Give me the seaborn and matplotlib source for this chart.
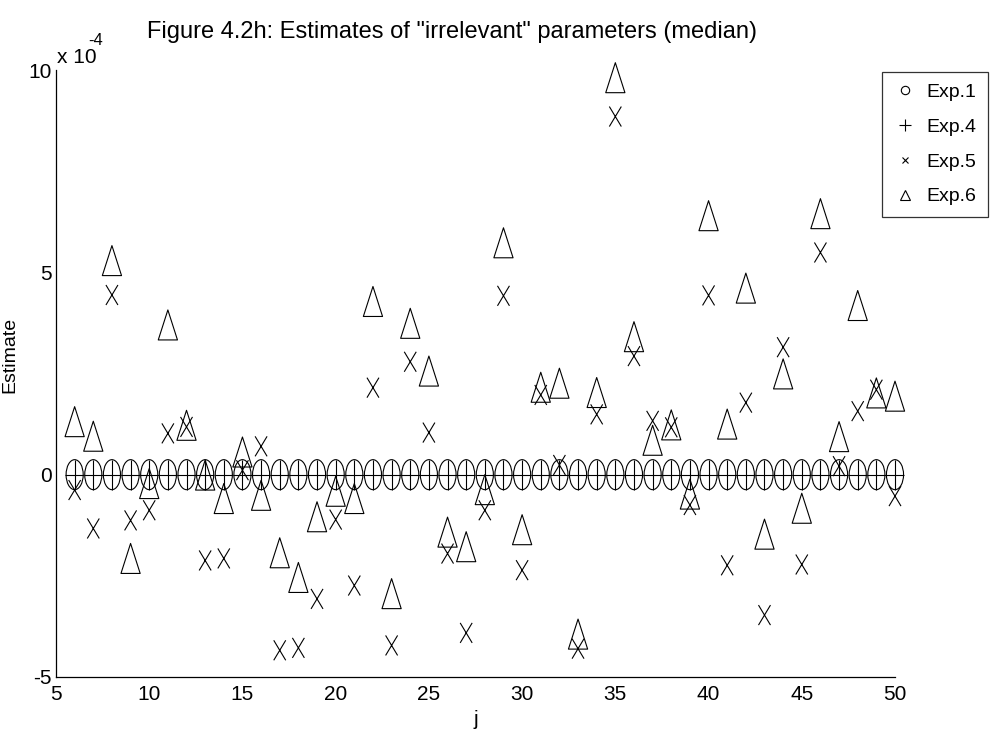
import numpy as np
import matplotlib
matplotlib.use('Agg')
import matplotlib.pyplot as plt
from matplotlib.path import Path
from matplotlib.lines import Line2D
import seaborn as sns

# valores em unidades de 1e-4
j = list(range(6, 51))
exp1 = [0.0] * len(j)
exp4 = [0.0] * len(j)
exp5 = [-0.38, -1.33, 4.44, -1.13, -0.88, 1.02, 1.18, -2.12, -2.07, 0.11, 0.70, -4.34, -4.28, -3.07,
        -1.11, -2.74, 2.15, -4.22, 2.79, 1.04, -1.95, -3.91, -0.88, 4.42, -2.36, 1.97, 0.24, -4.30,
        1.49, 8.85, 2.93, 1.33, 1.17, -0.75, 4.43, -2.24, 1.78, -3.47, 3.15, -2.22, 5.49, 0.21, 1.57, 2.10, -0.53]
exp6 = [1.31, 0.95, 5.29, -2.07, -0.22, 3.70, 1.22, -0.01, -0.59, 0.56, -0.51, -1.93, -2.54, -1.04,
        -0.41, -0.59, 4.28, -2.94, 3.74, 2.56, -1.42, -1.78, -0.37, 5.73, -1.36, 2.16, 2.26, -3.94,
        2.03, 9.81, 3.41, 0.85, 1.23, -0.48, 6.40, 1.25, 4.61, -1.47, 2.49, -0.83, 6.45, 0.94, 4.18, 2.02, 1.94]
labels = ['Exp.1', 'Exp.4', 'Exp.5', 'Exp.6']
xticks = [5, 10, 15, 20, 25, 30, 35, 40, 45, 50]
yticks = [-5, 0, 5, 10]

sns.set_style('white')
plt.rcParams['font.family'] = ['Liberation Sans', 'DejaVu Sans']
plt.rcParams['axes.unicode_minus'] = False
plt.rcParams['text.color'] = 'k'
plt.rcParams['axes.labelcolor'] = 'k'

# marcadores "achatados" como no original
circ = Path.unit_circle()
elipse = Path(circ.vertices * [0.57, 1.0], circ.codes)
mais = Path([(-0.62, 0), (0.62, 0), (0, -1), (0, 1)],
            [Path.MOVETO, Path.LINETO, Path.MOVETO, Path.LINETO])
xis = Path([(-0.6, -1), (0.6, 1), (-0.6, 1), (0.6, -1)],
           [Path.MOVETO, Path.LINETO, Path.MOVETO, Path.LINETO])
tri = Path([(0, 1), (-0.64, -1), (0.64, -1), (0, 1)],
           [Path.MOVETO, Path.LINETO, Path.LINETO, Path.CLOSEPOLY])

W, H = 992, 750
fig = plt.figure(figsize=(W / 100, H / 100), dpi=100)
ax = fig.add_axes([56 / W, 1 - 677 / H, (895 - 56) / W, (677 - 70) / H])

kw = dict(color='k', facecolor='none', edgecolor='k', linewidth=0.8, clip_on=False, ax=ax)
sns.scatterplot(x=j, y=exp1, marker=elipse, s=21.6 ** 2, **kw)
sns.scatterplot(x=j, y=exp4, marker=mais, s=21.6 ** 2, **kw)
sns.scatterplot(x=j, y=exp5, marker=xis, s=14.4 ** 2, **kw)
sns.scatterplot(x=j, y=exp6, marker=tri, s=21.6 ** 2, **kw)

ax.set_xlim(5, 50)
ax.set_ylim(-5, 10)
ax.set_xticks(xticks)
ax.set_yticks(yticks)
ax.set_xticklabels([str(v) for v in xticks], fontsize=15)
ax.set_yticklabels([str(v) for v in yticks], fontsize=15)
ax.tick_params(axis='x', direction='in', length=11, width=0.8, color='0.45', labelcolor='k', pad=6)
ax.tick_params(axis='y', direction='in', length=6, width=0.8, color='0.45', labelcolor='k', pad=3)
for s in ['top', 'right']:
    ax.spines[s].set_visible(False)
for s in ['left', 'bottom']:
    ax.spines[s].set_color('k')
    ax.spines[s].set_linewidth(0.9)

ax.set_xlabel('j', fontsize=15, labelpad=4)
ax.set_ylabel('Estimate', fontsize=14)
ax.yaxis.set_label_coords((18 - 56) / 839, (677 - 355) / 607)

# fator de escala no topo do eixo y
fig.text(57 / W, 1 - 63 / H, 'x 10', fontsize=15, ha='left', va='baseline')
fig.text(88 / W, 1 - 45 / H, '-4', fontsize=12, ha='left', va='baseline')

fig.text(0.456, 0.957, 'Figure 4.2h: Estimates of "irrelevant" parameters (median)', fontsize=17,
         ha='center', va='center')

handles = [Line2D([], [], ls='none', marker=m, mfc='none', mec='k', mew=0.8, ms=ms)
           for m, ms in zip(['o', '+', 'x', '^'], [6, 8, 4.5, 7])]
leg = fig.legend(handles, labels, loc='upper left', bbox_to_anchor=(882 / W, 1 - 72 / H),
                 fontsize=14, frameon=True, fancybox=False, edgecolor='k', labelspacing=0.88,
                 handlelength=1.2, handletextpad=0.5, borderpad=0.6, borderaxespad=0)
leg.get_frame().set_linewidth(0.9)

fig.savefig('out.png', dpi=100)
